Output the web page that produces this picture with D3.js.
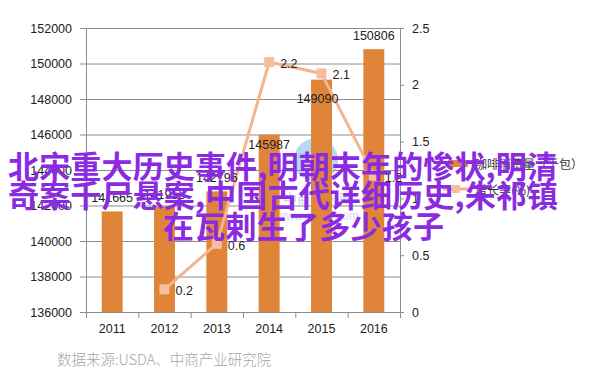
<!DOCTYPE html>
<html><head><meta charset="utf-8">
<script src="https://cdn.jsdelivr.net/npm/d3@7/dist/d3.min.js"></script>
<style>
html,body{margin:0;padding:0;background:#fff;}
svg{display:block;}
.tick text{font-family:"Liberation Sans",Arial,sans-serif;font-size:12.5px;fill:#222;}
</style></head>
<body>
<svg id="chart" width="602" height="384"></svg>
<script>
// ---- data ----
const years = ["2011","2012","2013","2014","2015","2016"];
const consumption = [141665, 141955, 142796, 145987, 149090, 150806];
const growth = [null, 0.2, 0.6, 2.2, 2.1, 1.2];
const leftTicks = [136000,138000,140000,142000,144000,146000,148000,150000,152000];
const rightTicks = [0,0.5,1,1.5,2,2.5];
const seriesNames = ["咖啡消费量（千包）","增长率(%)"];
const sourceText = "数据来源:USDA、中商产业研究院";
const overlayLines = ["北宋重大历史事件,明朝末年的惨状,明清","奇案千尸悬案,中国古代详细历史,朱祁镇","在瓦剌生了多少孩子"];

// ---- layout ----
const L = 86, R = 400, T = 28, B = 312;
const barColor = "#E0843A", lineColor = "#F4B48C", markerColor = "#F6BE9C";
const svg = d3.select("#chart");

const x = d3.scaleBand().domain(years).range([L, R]).paddingInner(0.6).paddingOuter(0.3);
const xi = d3.scaleLinear().domain([0, years.length]).range([L, R]);
const yL = d3.scaleLinear().domain([136000, 152000]).range([B, T]);
const yR = d3.scaleLinear().domain([0, 2.5]).range([B, T]);

// gridlines
svg.append("g").attr("transform", `translate(${L},0)`)
  .call(d3.axisLeft(yL).tickValues(leftTicks).tickSize(-(R - L)).tickFormat(""))
  .call(g => g.select(".domain").remove())
  .selectAll("line").attr("stroke", "#8c8c8c");

// watermark (faint)
const wm = svg.append("g").attr("opacity", 0.55);
wm.append("circle").attr("cx", 316).attr("cy", 160).attr("r", 22).attr("fill", "#7cbde0");
wm.append("text").attr("x", 318).attr("y", 204).attr("text-anchor", "middle")
  .attr("font-family", "Noto Sans CJK SC").attr("font-size", 14).attr("fill", "#8fb3c8").text("中商情报网");
wm.append("text").attr("x", 318).attr("y", 220).attr("text-anchor", "middle")
  .attr("font-family", "Liberation Sans").attr("font-size", 12).attr("fill", "#a9c2d0").text("www.askci.com");

// bars
svg.append("g").selectAll("rect").data(consumption).join("rect")
  .attr("x", (d, i) => x(years[i])).attr("width", x.bandwidth())
  .attr("y", d => yL(d)).attr("height", d => B - yL(d))
  .attr("fill", barColor);

// left axis
const gl = svg.append("g").attr("transform", `translate(${L},0)`)
  .call(d3.axisLeft(yL).tickValues(leftTicks).tickSize(6).tickSizeOuter(0).tickPadding(8).tickFormat(d3.format("d")));
gl.selectAll("line,path").attr("stroke", "#8c8c8c");

// right axis
const gr = svg.append("g").attr("transform", `translate(${R},0)`)
  .call(d3.axisRight(yR).tickValues(rightTicks).tickSize(4).tickSizeOuter(0).tickPadding(8).tickFormat(d => String(d)));
gr.selectAll("line,path").attr("stroke", "#8c8c8c");

// bottom axis
const gb = svg.append("g").attr("transform", `translate(0,${B})`)
  .call(d3.axisBottom(xi).tickValues(d3.range(years.length + 1)).tickSize(6).tickSizeOuter(0).tickFormat(""));
gb.selectAll("line,path").attr("stroke", "#8c8c8c");
svg.append("g").attr("transform", `translate(0,${B})`)
  .call(d3.axisBottom(x).tickSize(0).tickPadding(12))
  .call(g => g.select(".domain").remove());

// line series
const pts = growth.map((v, i) => ({v, i})).filter(p => p.v !== null);
const line = d3.line().x(p => x(years[p.i]) + x.bandwidth() / 2).y(p => yR(p.v));
svg.append("path").datum(pts).attr("d", line).attr("fill", "none")
  .attr("stroke", lineColor).attr("stroke-width", 3).attr("stroke-linejoin", "round");
svg.append("g").selectAll("rect").data(pts).join("rect")
  .attr("x", p => x(years[p.i]) + x.bandwidth() / 2 - 5).attr("y", p => yR(p.v) - 5)
  .attr("width", 10).attr("height", 10).attr("fill", markerColor);

// bar labels
const labelShift = [-13, -11, -13, 10, 19, -13];
svg.append("g").selectAll("text").data(consumption).join("text")
  .attr("x", (d, i) => x(years[i]) + x.bandwidth() / 2 + (i === 4 ? -4 : 0))
  .attr("y", (d, i) => yL(d) + labelShift[i])
  .attr("text-anchor", "middle").attr("dominant-baseline", "central")
  .attr("font-family", "Liberation Sans").attr("font-size", 12.5).attr("fill", "#222")
  .text(d => d);

// line labels
svg.append("g").selectAll("text").data(pts).join("text")
  .attr("x", p => x(years[p.i]) + x.bandwidth() / 2 + 11)
  .attr("y", p => yR(p.v) + 2)
  .attr("dominant-baseline", "central")
  .attr("font-family", "Liberation Sans").attr("font-size", 12.5).attr("fill", "#222")
  .text(p => p.v);

// legend
const lg = svg.append("g");
lg.append("rect").attr("x", 448).attr("y", 160).attr("width", 20).attr("height", 7).attr("fill", barColor);
lg.append("line").attr("x1", 443).attr("x2", 470).attr("y1", 189).attr("y2", 189)
  .attr("stroke", lineColor).attr("stroke-width", 3);
lg.append("rect").attr("x", 452).attr("y", 185).attr("width", 8).attr("height", 8).attr("fill", markerColor);
lg.selectAll("text.lg").data(seriesNames).join("text").attr("class", "lg")
  .attr("x", 475).attr("y", (d, i) => 163 + i * 26).attr("dominant-baseline", "central")
  .attr("font-family", "Noto Sans CJK SC").attr("font-size", 12).attr("fill", "#333")
  .text(d => d);

// source
svg.append("text").attr("x", 57).attr("y", 358).attr("dominant-baseline", "central")
  .attr("font-family", "Noto Sans CJK SC").attr("font-weight", 300).attr("font-size", 14.5)
  .attr("fill", "#a6a6a6").text(sourceText);

// overlay title text
const ov = [{x: 8, y: 164, w: 550}, {x: 8, y: 193, w: 550}, {x: 163, y: 224, w: 281}];
svg.append("g").selectAll("text").data(overlayLines).join("text")
  .attr("x", (d, i) => ov[i].x).attr("y", (d, i) => ov[i].y)
  .attr("textLength", (d, i) => ov[i].w).attr("lengthAdjust", "spacing")
  .attr("dominant-baseline", "central")
  .attr("font-family", "Noto Sans CJK SC").attr("font-weight", 700).attr("font-size", 31)
  .attr("fill", "#8A2BE2").text(d => d);
</script>
</body></html>
